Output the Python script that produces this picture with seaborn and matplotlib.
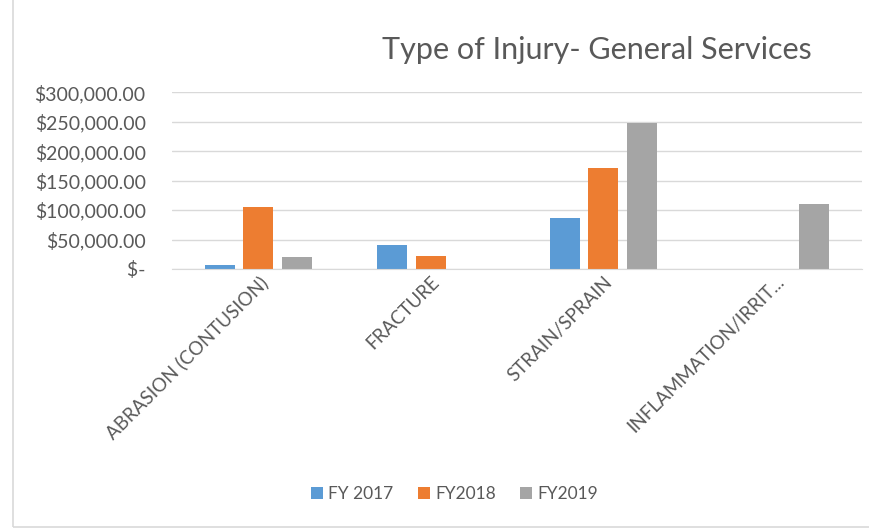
import pandas as pd
import numpy as np
import seaborn as sns
import matplotlib.pyplot as plt
from matplotlib.ticker import FuncFormatter
from matplotlib.patches import Rectangle

# dados
categorias = ["ABRASION (CONTUSION)", "FRACTURE", "STRAIN/SPRAIN", "INFLAMMATION/IRRIT..."]
anos = ["FY 2017", "FY2018", "FY2019"]
fy2017 = [6200, 40200, 86200, np.nan]
fy2018 = [105400, 22700, 171200, np.nan]
fy2019 = [19800, np.nan, 247200, 110000]
cores = ["#5B9BD5", "#ED7D31", "#A5A5A5"]

df = pd.DataFrame({
    "categoria": categorias * 3,
    "ano": [a for a in anos for _ in categorias],
    "valor": fy2017 + fy2018 + fy2019,
})

sns.set_style("white")
plt.rcParams['font.family'] = ['Lato', 'DejaVu Sans']
texto = "#595959"

fig = plt.figure(figsize=(8.69, 5.30), dpi=100)
ax = fig.add_axes([0.198, 0.4925, 0.794, 0.3335])

sns.barplot(data=df, x="categoria", y="valor", hue="ano", palette=cores,
            width=0.67, gap=0.22, ax=ax, saturation=1, linewidth=0)

ax.set_ylim(0, 300000)
ax.set_yticks(range(0, 300001, 50000))
ax.yaxis.set_major_formatter(FuncFormatter(
    lambda v, p: " $-" if v == 0 else f"${v:,.2f}"))
ax.grid(axis="y", color="#D9D9D9", linewidth=1)
ax.set_axisbelow(True)
for s in ["top", "right", "left"]:
    ax.spines[s].set_visible(False)
ax.spines["bottom"].set_color("#D9D9D9")
ax.set_xlabel("")
ax.set_ylabel("")
ax.tick_params(axis="y", length=0, pad=19, labelsize=14, labelcolor=texto)
ax.tick_params(axis="x", length=0, pad=3, labelsize=13.5, labelcolor=texto)
plt.setp(ax.get_xticklabels(), rotation=45, ha="right", rotation_mode="anchor")

fig.text(0.687, 0.906, "Type of Injury- General Services", ha="center", va="center",
         fontsize=22, color=texto)

handles, labels = ax.get_legend_handles_labels()
ax.legend_.remove()
fig.legend(handles, labels, loc="center", bbox_to_anchor=(0.523, 0.068), ncol=3,
           frameon=False, fontsize=12.5, labelcolor=texto, handlelength=0.7,
           handleheight=0.7, handletextpad=0.3, columnspacing=1.4)

fig.patches.append(Rectangle((0.015, 0.006), 1.2, 1.2, transform=fig.transFigure,
                             fill=False, edgecolor="#D9D9D9", linewidth=1.2))

fig.savefig("out.png", dpi=100)
